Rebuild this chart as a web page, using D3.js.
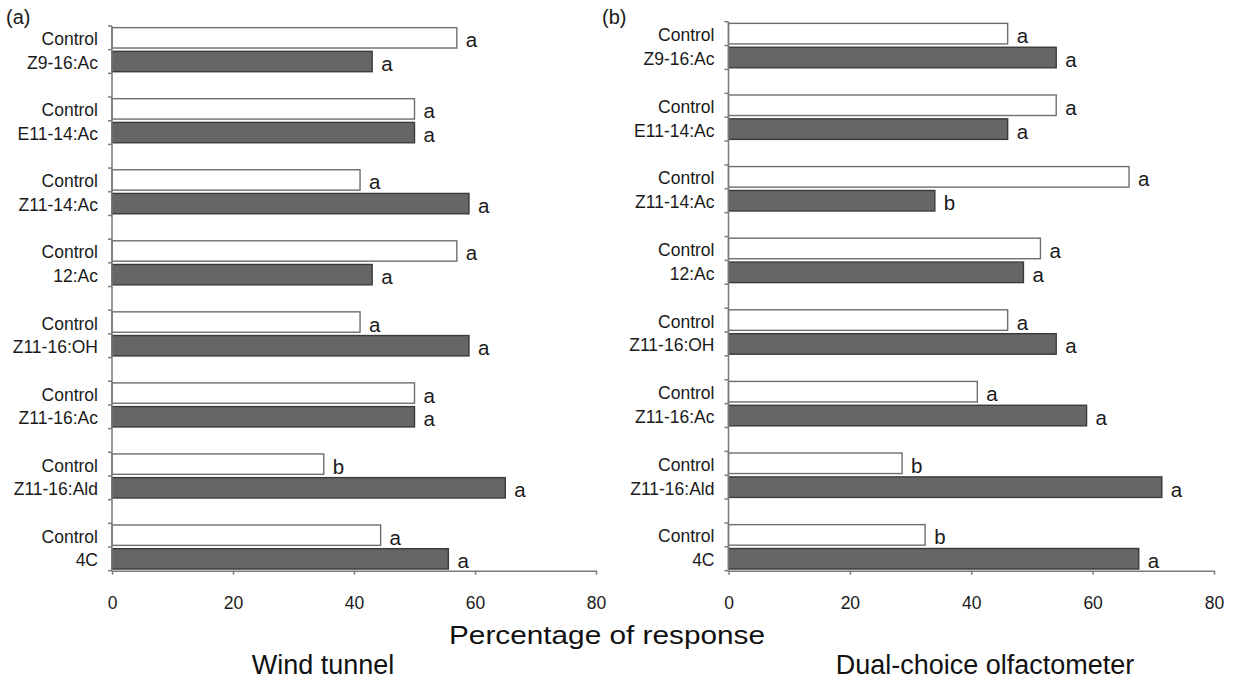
<!DOCTYPE html>
<html>
<head>
<meta charset="utf-8">
<script src="https://cdn.jsdelivr.net/npm/d3@7"></script>
<style>
  html, body { margin: 0; padding: 0; background: #fff; }
  svg { display: block; font-family: "Liberation Sans", Arial, sans-serif; }
  .cat-label { font-size: 17.5px; fill: #1a1a1a; }
  .tick-label { font-size: 17.5px; fill: #1a1a1a; }
  .sig { font-size: 20.5px; fill: #1a1a1a; }
  .axis-line { stroke: #7a7a7a; stroke-width: 1.5; fill: none; }
</style>
</head>
<body>
<div id="chart"></div>
<script>
// ====== données
const COMPOUNDS = ["Z9-16:Ac","E11-14:Ac","Z11-14:Ac","12:Ac","Z11-16:OH","Z11-16:Ac","Z11-16:Ald","4C"];
const CONTROL_LABEL = "Control";

// (a) Wind tunnel
const windControl    = [57, 50, 41, 57, 41, 50, 35, 44.4];
const windTreat      = [43, 50, 59, 43, 59, 50, 65, 55.6];
const windControlSig = ["a","a","a","a","a","a","b","a"];
const windTreatSig   = ["a","a","a","a","a","a","a","a"];

// (b) Dual-choice olfactometer
const olfControl    = [46, 54, 66, 51.4, 46, 41, 28.6, 32.4];
const olfTreat      = [54, 46, 34, 48.6, 54, 59, 71.4, 67.6];
const olfControlSig = ["a","a","a","a","a","a","b","b"];
const olfTreatSig   = ["a","a","b","a","a","a","a","a"];

const X_TICKS = [0, 20, 40, 60, 80];

// ====== dimensions
const W = 1238, H = 679;
const PANELS = [
  { tag:"(a)", title:"Wind tunnel", ctrl:windControl, trt:windTreat, ctrlSig:windControlSig, trtSig:windTreatSig,
    x0:112, x1:596, y0:26, y1:570.7, tagX:6, titleX:323 },
  { tag:"(b)", title:"Dual-choice olfactometer", ctrl:olfControl, trt:olfTreat, ctrlSig:olfControlSig, trtSig:olfTreatSig,
    x0:728.5, x1:1214, y0:21.7, y1:570.7, tagX:602, titleX:985 }
];

const svg = d3.select("#chart").append("svg")
  .attr("width", W).attr("height", H)
  .attr("viewBox", [0, 0, W, H]);

// rangées : Control, composé, espace (sauf après le dernier)
const rowKeys = [];
COMPOUNDS.forEach((c, i) => {
  rowKeys.push(`ctrl|${i}`, `trt|${i}`);
  if (i < COMPOUNDS.length - 1) rowKeys.push(`gap|${i}`);
});

function drawPanel(p){
  const g = svg.append("g");
  const x = d3.scaleLinear().domain([0, 80]).range([p.x0, p.x1]);
  const y = d3.scaleBand().domain(rowKeys).range([p.y0, p.y1]).padding(0);
  const bw = y.bandwidth();
  const barH = bw * 0.86;

  // données des barres
  const rows = COMPOUNDS.flatMap((c, i) => [
    { key:`ctrl|${i}`, label:CONTROL_LABEL, value:p.ctrl[i], sig:p.ctrlSig[i], treat:false },
    { key:`trt|${i}`,  label:c,             value:p.trt[i],  sig:p.trtSig[i],  treat:true }
  ]);

  // barres
  g.selectAll("rect.bar").data(rows).join("rect")
    .attr("class", "bar")
    .attr("x", x(0))
    .attr("y", d => y(d.key) + (bw - barH) / 2)
    .attr("width", d => x(d.value) - x(0))
    .attr("height", barH)
    .attr("fill", d => d.treat ? "#666666" : "#ffffff")
    .attr("stroke", d => d.treat ? "#3a3a3a" : "#6e6e6e")
    .attr("stroke-width", 1.4);

  // lettres de significativité
  g.selectAll("text.sig").data(rows).join("text")
    .attr("class", "sig")
    .attr("x", d => x(d.value) + 9)
    .attr("y", d => y(d.key) + bw / 2 + 9.5)
    .text(d => d.sig);

  // libellés catégories
  g.selectAll("text.cat-label").data(rows).join("text")
    .attr("class", "cat-label")
    .attr("x", p.x0 - 14)
    .attr("y", d => y(d.key) + bw / 2 + 7.5)
    .attr("text-anchor", "end")
    .text(d => d.label);

  // axe vertical + graduations aux limites des rangées
  const bounds = rowKeys.map(k => y(k)).concat([p.y1]);
  g.append("line").attr("class", "axis-line")
    .attr("x1", x(0)).attr("x2", x(0)).attr("y1", p.y0).attr("y2", p.y1);
  g.selectAll("line.ytick").data(bounds).join("line")
    .attr("class", "axis-line ytick")
    .attr("x1", x(0) - 4).attr("x2", x(0))
    .attr("y1", d => d).attr("y2", d => d);

  // axe horizontal
  const ax = g.append("g")
    .attr("transform", `translate(0,${p.y1})`)
    .call(d3.axisBottom(x).tickValues(X_TICKS).tickSize(4).tickSizeOuter(0).tickPadding(22));
  ax.select(".domain").attr("class", "domain axis-line");
  ax.selectAll(".tick line").attr("class", "axis-line");
  ax.selectAll(".tick text").attr("class", "tick-label").attr("font-size", null).attr("font-family", null);

  // étiquette du panneau et titre
  svg.append("text").attr("x", p.tagX).attr("y", 24)
    .attr("font-size", 20).attr("fill", "#1a1a1a").text(p.tag);
  svg.append("text").attr("x", p.titleX).attr("y", 674)
    .attr("text-anchor", "middle").attr("font-size", 27).attr("fill", "#111").text(p.title);
}

PANELS.forEach(drawPanel);

// titre commun de l'axe x
svg.append("text")
  .attr("x", 607).attr("y", 644)
  .attr("text-anchor", "middle")
  .attr("font-size", 26).attr("fill", "#111")
  .attr("textLength", 316).attr("lengthAdjust", "spacingAndGlyphs")
  .text("Percentage of response");
</script>
</body>
</html>
